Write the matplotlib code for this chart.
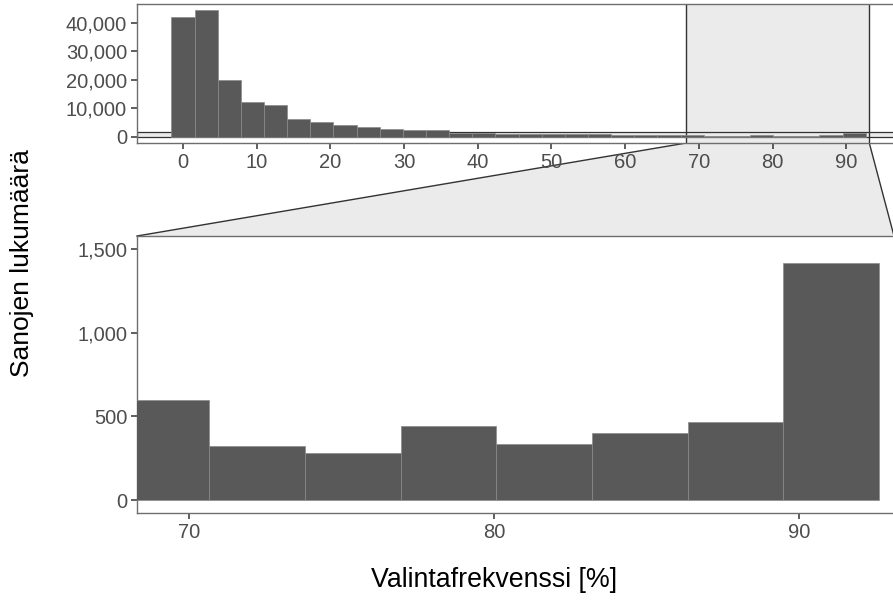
import numpy as np
import matplotlib.pyplot as plt
from matplotlib.patches import Polygon
from matplotlib.ticker import FuncFormatter

plt.rcParams['font.family'] = ['Liberation Sans', 'DejaVu Sans']

# histogram: 30 bins of width 3.14, first bin centred on 0
bin_width = 3.14
n_bins = 30
counts = [42100, 44500, 20000, 12300, 11200, 6200, 5200, 4100, 3400, 2700,
          2250, 2300, 1400, 1250, 1100, 1000, 900, 850, 800, 750,
          700, 650, 600, 327, 281, 446, 337, 402, 465, 1413]
centers = np.arange(n_bins) * bin_width

top_xticks = [0, 10, 20, 30, 40, 50, 60, 70, 80, 90]
top_yticks = [0, 10000, 20000, 30000, 40000]
zoom_xticks = [70, 80, 90]
zoom_yticks = [0, 500, 1000, 1500]
zoom_x = (68.28, 93.12)
zoom_y = (0, 1500)

BAR = '#595959'
EDGE = '#8a8a8a'
SHADE = '#EBEBEB'
LINE = '#333333'
BORDER = '#6e6e6e'
TXT = '#4D4D4D'

W, H = 893, 601
fig = plt.figure(figsize=(W / 100, H / 100), dpi=100)

def px_axes(l, t, r, b):
    return fig.add_axes([l / W, 1 - b / H, (r - l) / W, (b - t) / H])

ax_top = px_axes(136.7, 4, 900.4, 143)
ax_zoom = px_axes(137, 236, 894, 513)

comma = FuncFormatter(lambda v, p: f'{int(v):,}')

for ax in (ax_top, ax_zoom):
    ax.bar(centers, counts, width=bin_width, color=BAR, edgecolor=EDGE,
           linewidth=0.5, zorder=3)
    for s in ax.spines.values():
        s.set_color(BORDER)
        s.set_linewidth(1.0)
    ax.tick_params(length=4, width=1.1, color=LINE, labelcolor=TXT,
                   labelsize=14.5, pad=3)
    ax.yaxis.set_major_formatter(comma)

# overview panel
lo, hi = -bin_width / 2, centers[-1] + bin_width / 2
pad = (hi - lo) * 0.05
ax_top.set_xlim(lo - pad, hi + pad)
ymax = max(counts)
ax_top.set_ylim(-ymax * 0.05, ymax * 1.05)
ax_top.set_xticks(top_xticks)
ax_top.set_yticks(top_yticks)

# zoom indicator bands
ypad = (zoom_y[1] - zoom_y[0]) * 0.05
ax_top.axvspan(zoom_x[0], zoom_x[1], facecolor=SHADE, edgecolor='none', zorder=1)
for xv in zoom_x:
    ax_top.axvline(xv, color=LINE, lw=1.0, zorder=2)
ax_top.axhspan(zoom_y[0] - ypad, zoom_y[1] + ypad, facecolor=SHADE,
               edgecolor=LINE, lw=0.9, zorder=1)

# zoom panel
ax_zoom.set_xlim(*zoom_x)
ax_zoom.set_ylim(zoom_y[0] - ypad, zoom_y[1] + ypad)
ax_zoom.set_xticks(zoom_xticks)
ax_zoom.set_yticks(zoom_yticks)

# trapezoid joining the two panels, kept behind the tick labels
inv = fig.transFigure.inverted()
p1 = inv.transform(ax_top.transData.transform((zoom_x[0], ax_top.get_ylim()[0])))
p2 = inv.transform(ax_top.transData.transform((zoom_x[1], ax_top.get_ylim()[0])))
p3 = inv.transform(ax_zoom.transData.transform((zoom_x[1], ax_zoom.get_ylim()[1])))
p4 = inv.transform(ax_zoom.transData.transform((zoom_x[0], ax_zoom.get_ylim()[1])))
fig.patches.append(Polygon([p1, p2, p3, p4], closed=True, facecolor=SHADE,
                           edgecolor='none', transform=fig.transFigure, zorder=-2))
for a, b in ((p1, p4), (p2, p3)):
    fig.add_artist(plt.Line2D([a[0], b[0]], [a[1], b[1]], color=LINE, lw=1.0,
                              transform=fig.transFigure, zorder=-1))

fig.text(494 / W, 1 - 580 / H, 'Valintafrekvenssi [%]', ha='center',
         va='center', fontsize=19.3, color='black')
fig.text(22 / W, 1 - 263 / H, 'Sanojen lukumäärä', ha='center', va='center',
         rotation=90, fontsize=19, color='black')

fig.savefig('out.png', dpi=100)
